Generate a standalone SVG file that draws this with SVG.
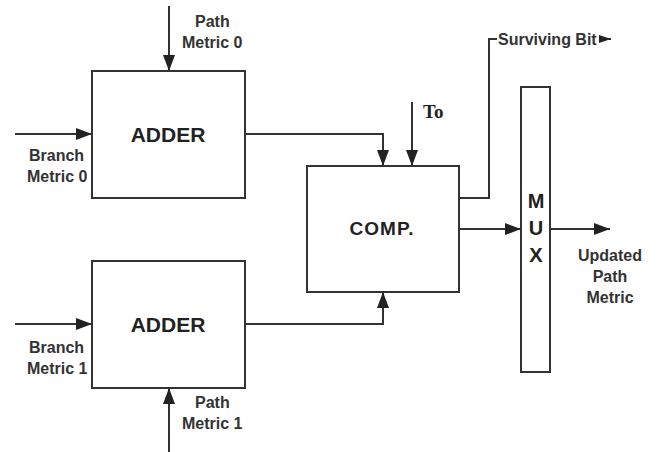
<svg xmlns="http://www.w3.org/2000/svg" width="661" height="452" viewBox="0 0 661 452">
<style>
.box{fill:#fff;stroke:#333;stroke-width:2}
.ln{fill:none;stroke:#333;stroke-width:2}
.lbl{font-family:"Liberation Sans",Arial,sans-serif;font-weight:bold;font-size:16px;fill:#333}
.big{font-family:"Liberation Sans",Arial,sans-serif;font-weight:bold;font-size:21px;fill:#222;text-anchor:middle}
</style>
<defs>
<marker id="ah" markerUnits="userSpaceOnUse" markerWidth="16" markerHeight="12" refX="16" refY="6" orient="auto">
<path d="M0,0 L16,6 L0,12 Z" fill="#222"/>
</marker>
<marker id="ahs" markerUnits="userSpaceOnUse" markerWidth="12" markerHeight="8" refX="12" refY="4" orient="auto">
<path d="M0,0 L12,4 L0,8 Z" fill="#222"/>
</marker>
</defs>
<rect width="661" height="452" fill="#fff"/>
<g id="connectors">
<line class="ln" x1="169" y1="6" x2="169" y2="71" marker-end="url(#ah)"/>
<line class="ln" x1="15" y1="134" x2="92" y2="134" marker-end="url(#ah)"/>
<path class="ln" d="M245,134 H383 V166" marker-end="url(#ah)"/>
<line class="ln" x1="412" y1="102" x2="412" y2="166" marker-end="url(#ah)"/>
<line class="ln" x1="15" y1="324" x2="92" y2="324" marker-end="url(#ah)"/>
<path class="ln" d="M245,324 H383 V292" marker-end="url(#ah)"/>
<line class="ln" x1="169" y1="452" x2="169" y2="388" marker-end="url(#ah)"/>
<path class="ln" d="M459,198 H489 V39 H497"/>
<line class="ln" x1="600" y1="39" x2="611" y2="39" marker-end="url(#ahs)"/>
<line class="ln" x1="459" y1="229" x2="521" y2="229" marker-end="url(#ah)"/>
<line class="ln" x1="550" y1="229" x2="610" y2="229" marker-end="url(#ah)"/>
</g>
<g id="adder0">
<rect class="box" x="92" y="71" width="153" height="127"/>
<text class="big" x="168" y="142">ADDER</text>
</g>
<g id="adder1">
<rect class="box" x="92" y="261" width="153" height="127"/>
<text class="big" x="168" y="332">ADDER</text>
</g>
<g id="comp">
<rect class="box" x="307" y="166" width="152" height="126"/>
<text class="big" x="382" y="235" style="font-size:19px;letter-spacing:1px">COMP.</text>
</g>
<g id="mux">
<rect class="box" x="521" y="87" width="29" height="285"/>
<text class="big" x="536" y="208" style="font-size:20px">M</text>
<text class="big" x="536" y="235" style="font-size:20px">U</text>
<text class="big" x="536" y="262" style="font-size:20px">X</text>
</g>
<g id="labels">
<text class="lbl" x="195" y="27">Path</text>
<text class="lbl" x="182" y="48">Metric 0</text>
<text class="lbl" x="29" y="161">Branch</text>
<text class="lbl" x="27" y="182">Metric 0</text>
<text class="lbl" x="29" y="353">Branch</text>
<text class="lbl" x="27" y="374">Metric 1</text>
<text class="lbl" x="195" y="408">Path</text>
<text class="lbl" x="182" y="429">Metric 1</text>
<text class="lbl" x="498" y="45">Surviving Bit</text>
<text x="423" y="118" style="font-family:'Liberation Serif','Times New Roman',serif;font-weight:bold;font-size:19px;fill:#222">To</text>
<text class="lbl" x="610" y="261" text-anchor="middle">Updated</text>
<text class="lbl" x="610" y="282" text-anchor="middle">Path</text>
<text class="lbl" x="610" y="303" text-anchor="middle">Metric</text>
</g>
</svg>
